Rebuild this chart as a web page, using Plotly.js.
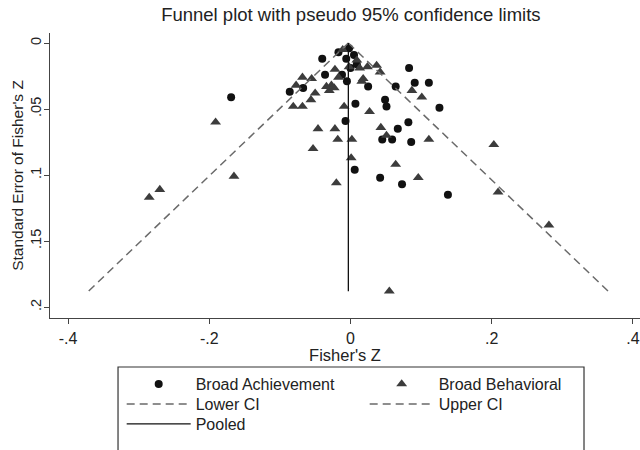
<!DOCTYPE html>
<html>
<head>
<meta charset="utf-8">
<script src="https://cdn.plot.ly/plotly-3.0.1.min.js"></script>
<style>html,body{margin:0;padding:0;background:#fff;}#chart{width:640px;height:450px;}</style>
</head>
<body>
<div id="chart"></div>
<script>
// Broad Achievement (circles): Fisher's Z and its standard error
const achZ  = [-0.040,-0.017,-0.006,0.005,-0.002,-0.036,-0.086,-0.067,-0.012,-0.005,0.007,-0.007,0.025,0.049,0.051,0.064,0.083,0.091,0.111,0.126,0.067,0.082,0.045,0.059,0.086,0.006,0.042,0.073,0.138,-0.169,0.009,0.000];
const achSE = [0.012,0.007,0.012,0.009,0.004,0.024,0.037,0.034,0.024,0.029,0.046,0.059,0.033,0.043,0.048,0.033,0.019,0.030,0.030,0.049,0.065,0.060,0.073,0.073,0.075,0.096,0.102,0.107,0.115,0.041,0.016,0.019];

// Broad Behavioral (triangles)
const behZ  = [-0.068,-0.055,-0.077,-0.030,-0.023,-0.027,-0.022,-0.017,-0.050,-0.056,-0.081,-0.068,-0.009,0.027,-0.046,-0.022,-0.018,0.002,-0.053,0.001,-0.020,0.024,0.037,0.042,0.016,-0.002,0.009,0.013,0.018,-0.034,-0.011,0.087,0.101,0.043,0.051,0.111,0.064,0.096,0.203,0.209,0.281,0.055,-0.191,-0.165,-0.270,-0.285];
const behSE = [0.026,0.027,0.032,0.036,0.034,0.032,0.020,0.026,0.038,0.043,0.048,0.048,0.048,0.052,0.065,0.065,0.073,0.073,0.080,0.087,0.106,0.018,0.017,0.022,0.029,0.018,0.013,0.019,0.027,0.033,0.005,0.036,0.041,0.064,0.070,0.073,0.092,0.102,0.077,0.113,0.138,0.188,0.060,0.101,0.111,0.117];

// pseudo 95% confidence limits and pooled estimate (end points)
const limitSE  = [0, 0.188];
const lowerCI  = [-0.003, -0.371];
const upperCI  = [-0.003, 0.365];
const pooledZ  = [-0.003, -0.003];

const xTickVals = [-0.4, -0.2, 0, 0.2, 0.4];
const xTickText = ['-.4', '-.2', '0', '.2', '.4'];
const yTickVals = [0, 0.05, 0.1, 0.15, 0.2];
const yTickText = ['0', '.05', '.1', '.15', '.2'];

const FONT = 'Liberation Sans, Arial, sans-serif';
const TXT = '#222';

const traces = [
  {x: achZ, y: achSE, type: 'scatter', mode: 'markers', name: 'Broad Achievement', legend: 'legend',
   marker: {symbol: 'circle', size: 8, color: '#111'}},
  {x: behZ, y: behSE, type: 'scatter', mode: 'markers', name: 'Broad Behavioral', legend: 'legend',
   marker: {symbol: 'triangle-up', size: 9.5, color: '#3c3c3c'}},
  {x: lowerCI, y: limitSE, type: 'scatter', mode: 'lines', name: 'Lower CI', legend: 'legend2',
   line: {color: '#6a6a6a', width: 1.5, dash: '8px,5px'}},
  {x: upperCI, y: limitSE, type: 'scatter', mode: 'lines', name: 'Upper CI', legend: 'legend2',
   line: {color: '#6a6a6a', width: 1.5, dash: '8px,5px'}},
  {x: pooledZ, y: limitSE, type: 'scatter', mode: 'lines', name: 'Pooled', legend: 'legend3',
   line: {color: '#111', width: 1.3}}
];

function legendRow(y) {
  return {orientation: 'h', x: 0.1215, xanchor: 'left', y: y, yanchor: 'middle',
          entrywidth: 164, itemwidth: 64, borderwidth: 0, bgcolor: 'rgba(0,0,0,0)',
          font: {size: 16, color: TXT}, traceorder: 'normal', itemclick: false};
}

const layout = {
  width: 640, height: 450,
  paper_bgcolor: '#fff', plot_bgcolor: '#fff',
  margin: {l: 50, r: 0, t: 33, b: 132, autoexpand: false},
  font: {family: FONT, color: TXT, size: 15},
  title: {text: 'Funnel plot with pseudo 95% confidence limits', xref: 'paper', x: 0.51, xanchor: 'center',
          yref: 'container', y: 0.968, yanchor: 'middle', font: {size: 18.5, color: TXT}},
  xaxis: {range: [-0.4255, 0.41], tickvals: xTickVals, ticktext: xTickText,
          showgrid: false, zeroline: false, showline: true, linecolor: '#444', linewidth: 1.3,
          ticks: 'outside', ticklen: 5, tickcolor: '#444', tickfont: {size: 16, color: TXT},
          title: {text: "Fisher's Z", font: {size: 16.5, color: TXT}, standoff: 0}},
  yaxis: {range: [0.2083, -0.0076], tickvals: yTickVals, ticktext: yTickText, tickangle: -90,
          ticklabelstandoff: -3,
          showgrid: false, zeroline: false, showline: true, linecolor: '#444', linewidth: 1.3,
          ticks: 'outside', ticklen: 5, tickcolor: '#444', tickfont: {size: 14.5, color: TXT},
          title: {text: "Standard Error of Fisher's Z", font: {size: 15.5, color: TXT}, standoff: 0}},
  showlegend: true,
  legend: legendRow(-0.2316),
  legend2: legendRow(-0.3018),
  legend3: legendRow(-0.3719),
  shapes: [{type: 'rect', xref: 'paper', yref: 'paper', x0: 0.1153, x1: 0.9051, y0: -0.1719, y1: -0.52,
            line: {color: '#333', width: 1.2}, fillcolor: 'rgba(0,0,0,0)', layer: 'above'}]
};

Plotly.newPlot('chart', traces, layout, {displayModeBar: false, staticPlot: true});
</script>
</body>
</html>
